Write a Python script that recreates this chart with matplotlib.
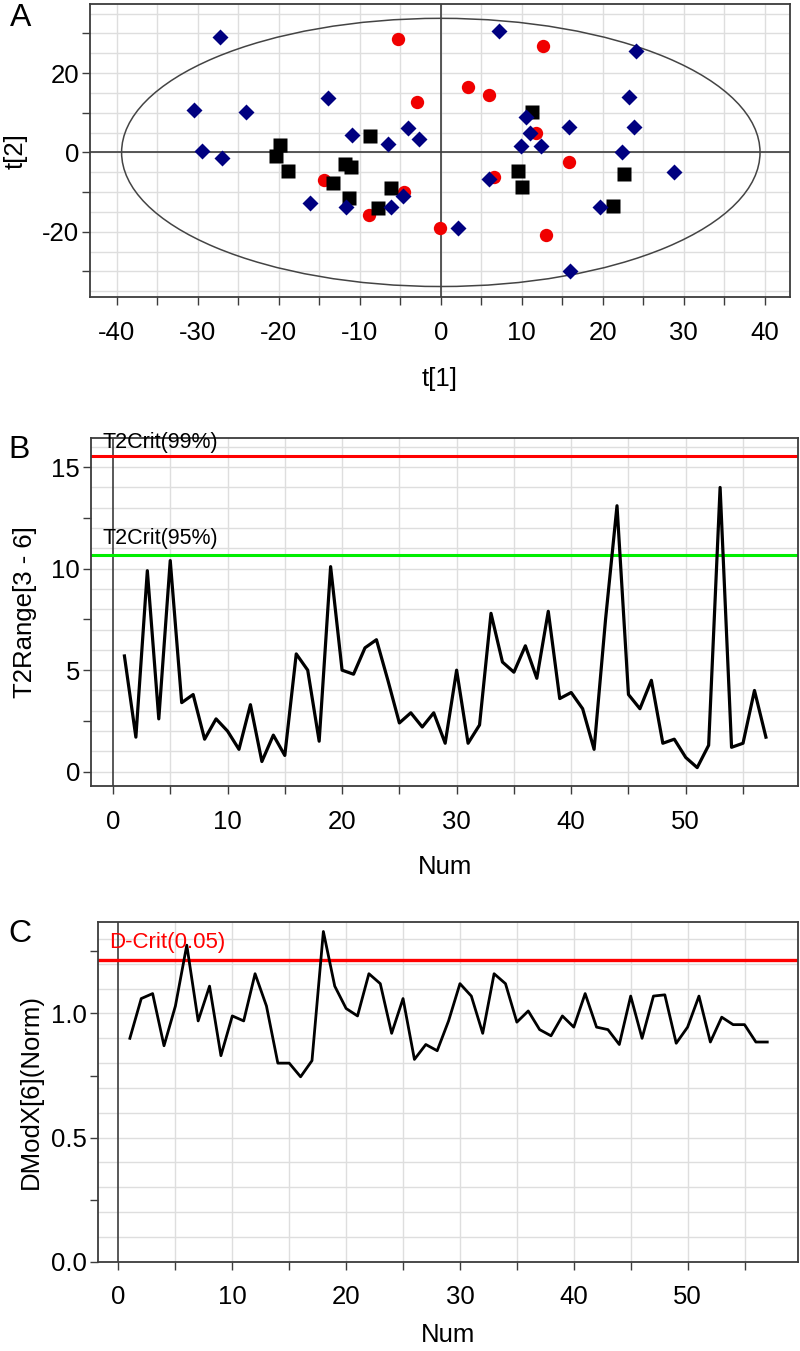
import matplotlib
matplotlib.use('Agg')
import matplotlib.pyplot as plt
from matplotlib.patches import Ellipse
from matplotlib.ticker import MultipleLocator, FormatStrFormatter
import numpy as np

plt.rcParams['font.family'] = ['Liberation Sans', 'DejaVu Sans']
plt.rcParams['axes.unicode_minus'] = False

# panel A: score plot t[1] vs t[2]
blue_t1 = [-27.3, -30.5, -24.0, -29.5, -27.0, -13.9, -10.9, -6.5, -4.0, -2.7, -16.2, -11.7, -6.1, -4.7,
           7.2, 24.1, 23.2, 23.9, 10.5, 11.0, 9.9, 12.4, 15.8, 22.4, 28.8, 6.0, 19.6, 2.1, 15.9]
blue_t2 = [29.0, 10.6, 10.1, 0.4, -1.4, 13.8, 4.5, 2.1, 6.2, 3.4, -12.8, -13.7, -13.7, -11.1,
           30.6, 25.6, 13.9, 6.5, 8.9, 4.8, 1.7, 1.7, 6.5, 0.0, -4.9, -6.7, -13.7, -19.0, -29.9]
black_t1 = [-19.8, -20.3, -18.8, -8.7, -11.8, -11.1, -13.3, -11.3, -6.2, -7.7, 11.3, 9.5, 10.0, 22.6, 21.3]
black_t2 = [1.9, -0.8, -4.8, 4.2, -2.9, -3.8, -7.8, -11.4, -9.0, -14.1, 10.3, -4.8, -8.7, -5.5, -13.5]
red_t1 = [-5.3, -2.9, -14.4, -4.5, -8.9, 12.6, 3.3, 5.9, 11.7, 15.8, 6.6, -0.1, 13.0]
red_t2 = [28.5, 12.8, -7.0, -9.9, -15.8, 26.8, 16.6, 14.4, 4.8, -2.3, -6.2, -19.0, -20.7]
ellipse_t1 = 39.4   # Hotelling T2 ellipse half-axes
ellipse_t2 = 33.8

# panel B: T2Range[3 - 6]
num = np.arange(1, 58)
t2range = [5.7, 1.7, 9.9, 2.6, 10.4, 3.4, 3.8, 1.6, 2.6, 2.0, 1.1, 3.3, 0.5, 1.8, 0.8, 5.8, 5.0, 1.5,
           10.1, 5.0, 4.8, 6.1, 6.5, 4.5, 2.4, 2.9, 2.2, 2.9, 1.4, 5.0, 1.4, 2.3, 7.8, 5.4, 4.9, 6.2,
           4.6, 7.9, 3.6, 3.9, 3.1, 1.1, 7.5, 13.1, 3.8, 3.1, 4.5, 1.4, 1.6, 0.7, 0.2, 1.3, 14.0,
           1.2, 1.4, 4.0, 1.7]
t2crit99 = 15.55
t2crit95 = 10.66

# panel C: DModX[6](Norm)
dmodx = [0.90, 1.06, 1.08, 0.87, 1.03, 1.275, 0.97, 1.11, 0.83, 0.99, 0.97, 1.16, 1.03, 0.80, 0.80,
         0.745, 0.81, 1.33, 1.11, 1.02, 0.99, 1.16, 1.12, 0.92, 1.06, 0.815, 0.875, 0.85, 0.97, 1.12,
         1.07, 0.92, 1.16, 1.12, 0.965, 1.01, 0.935, 0.91, 0.99, 0.945, 1.08, 0.945, 0.935, 0.875,
         1.07, 0.90, 1.07, 1.075, 0.88, 0.945, 1.07, 0.885, 0.985, 0.955, 0.955, 0.885, 0.885]
dcrit = 1.217

FS = 18.5
GRID = '#dedede'
EDGE = '#3c3c3c'

fig = plt.figure(figsize=(8, 13.51), dpi=100)


def style(ax):
    for s in ax.spines.values():
        s.set_color(EDGE)
        s.set_linewidth(1.3)
    ax.tick_params(which='both', direction='out', length=6, width=1, color=EDGE, labelsize=FS)
    ax.tick_params(axis='x', which='both', pad=11)
    ax.tick_params(axis='y', which='both', pad=2)
    ax.set_axisbelow(True)


# ---- A ----
axA = fig.add_axes([0.1125, 0.780, 0.875, 0.217])
style(axA)
axA.set_xlim(-43.3, 43.1)
axA.set_ylim(-36.5, 37.4)
for v in np.arange(-40, 45, 5):
    axA.axvline(v, color=GRID, lw=1, zorder=0)
for v in np.arange(-35, 40, 5):
    axA.axhline(v, color=GRID, lw=1, zorder=0)
axA.axvline(0, color=EDGE, lw=1.2, zorder=1)
axA.axhline(0, color=EDGE, lw=1.2, zorder=1)
axA.add_patch(Ellipse((0, 0), 2 * ellipse_t1, 2 * ellipse_t2, fill=False, ec='#444444', lw=1.1, zorder=1))
axA.plot(red_t1, red_t2, 'o', color='#f00000', ms=9.6, mec='none', zorder=3)
axA.plot(black_t1, black_t2, 's', color='black', ms=9.4, mec='none', zorder=4)
axA.plot(blue_t1, blue_t2, 'D', color='#000080', ms=8.4, mec='none', zorder=5)
axA.xaxis.set_major_locator(MultipleLocator(10))
axA.xaxis.set_minor_locator(MultipleLocator(5))
axA.yaxis.set_major_locator(MultipleLocator(20))
axA.yaxis.set_minor_locator(MultipleLocator(10))
axA.set_xlabel('t[1]', fontsize=FS, labelpad=16)
axA.set_ylabel('t[2]', fontsize=FS, labelpad=10)

# ---- B ----
axB = fig.add_axes([0.114, 0.418, 0.8835, 0.258])
style(axB)
axB.set_xlim(-1.9, 59.8)
axB.set_ylim(-0.72, 16.45)
for v in np.arange(5, 60, 5):
    axB.axvline(v, color=GRID, lw=1, zorder=0)
for v in np.arange(0, 17, 1):
    axB.axhline(v, color=GRID, lw=1, zorder=0)
axB.axvline(0, color=EDGE, lw=1.2, zorder=1)
axB.axhline(t2crit99, color='#ff0000', lw=2.2, zorder=2)
axB.axhline(t2crit95, color='#00ee00', lw=2.2, zorder=2)
axB.plot(num, t2range, color='black', lw=2.3, zorder=3)
axB.text(-0.9, t2crit99 + 0.4, 'T2Crit(99%)', fontsize=15.5, ha='left', va='baseline', clip_on=False)
axB.text(-0.9, t2crit95 + 0.55, 'T2Crit(95%)', fontsize=15.5, ha='left', va='baseline')
axB.xaxis.set_major_locator(MultipleLocator(10))
axB.xaxis.set_minor_locator(MultipleLocator(5))
axB.yaxis.set_major_locator(MultipleLocator(5))
axB.yaxis.set_minor_locator(MultipleLocator(2.5))
axB.set_xlabel('Num', fontsize=FS, labelpad=15)
axB.set_ylabel('T2Range[3 - 6]', fontsize=FS, labelpad=10)

# ---- C ----
axC = fig.add_axes([0.1225, 0.066, 0.875, 0.2515])
style(axC)
axC.set_xlim(-1.8, 59.7)
axC.set_ylim(0, 1.368)
for v in np.arange(5, 60, 5):
    axC.axvline(v, color=GRID, lw=1, zorder=0)
for v in np.arange(0.1, 1.4, 0.1):
    axC.axhline(v, color=GRID, lw=1, zorder=0)
axC.axvline(0, color=EDGE, lw=1.2, zorder=1)
axC.axhline(dcrit, color='#ff0000', lw=2.4, zorder=2)
axC.plot(num, dmodx, color='black', lw=2.0, zorder=3)
axC.text(-0.8, dcrit + 0.045, 'D-Crit(0.05)', fontsize=16, color='#ff0000', ha='left', va='baseline')
axC.xaxis.set_major_locator(MultipleLocator(10))
axC.xaxis.set_minor_locator(MultipleLocator(5))
axC.yaxis.set_major_locator(MultipleLocator(0.5))
axC.yaxis.set_minor_locator(MultipleLocator(0.25))
axC.yaxis.set_major_formatter(FormatStrFormatter('%.1f'))
axC.set_xlabel('Num', fontsize=FS, labelpad=10)
axC.set_ylabel('DModX[6](Norm)', fontsize=FS, labelpad=6)

# panel letters
fig.text(0.012, 0.998, 'A', fontsize=23, va='top', ha='left')
fig.text(0.010, 0.678, 'B', fontsize=23, va='top', ha='left')
fig.text(0.010, 0.320, 'C', fontsize=23, va='top', ha='left')

fig.savefig('out.png', dpi=100)
